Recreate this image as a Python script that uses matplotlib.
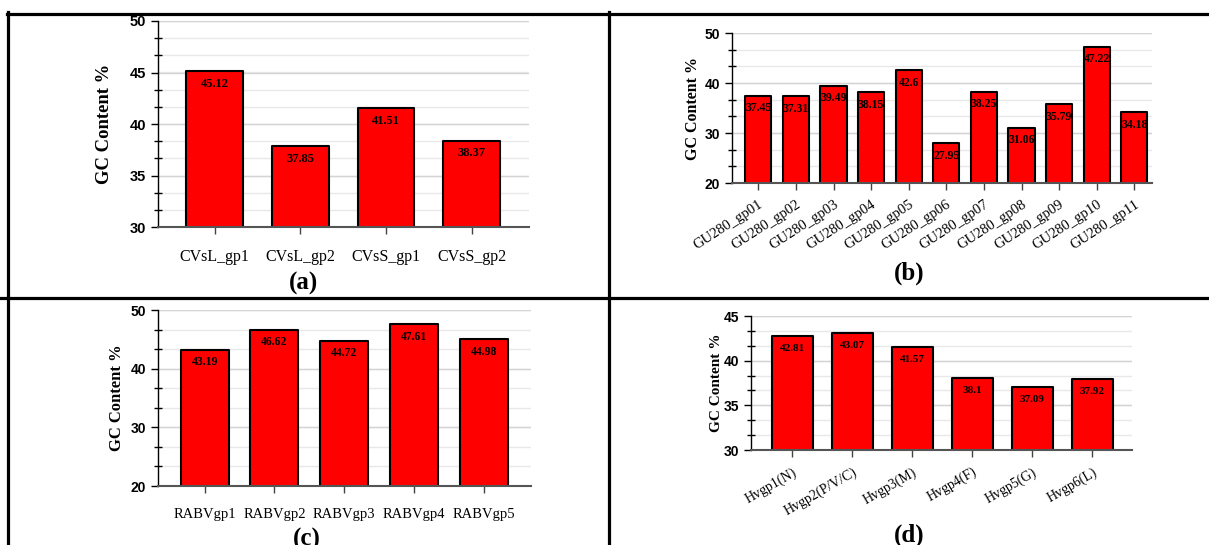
import matplotlib
matplotlib.use("Agg")
import numpy as np
import matplotlib.pyplot as plt
from matplotlib.lines import Line2D
from matplotlib.ticker import MultipleLocator

W, H = 1209, 545
serif = ["Liberation Serif", "DejaVu Serif"]
sans = ["Liberation Sans", "DejaVu Sans"]

# panel (a)
cats_a = ["CVsL_gp1", "CVsL_gp2", "CVsS_gp1", "CVsS_gp2"]
vals_a = [45.12, 37.85, 41.51, 38.37]

# panel (b)
cats_b = ["GU280_gp01", "GU280_gp02", "GU280_gp03", "GU280_gp04", "GU280_gp05",
          "GU280_gp06", "GU280_gp07", "GU280_gp08", "GU280_gp09", "GU280_gp10",
          "GU280_gp11"]
vals_b = [37.45, 37.31, 39.49, 38.15, 42.6, 27.95, 38.25, 31.06, 35.79, 47.22, 34.18]

# panel (c)
cats_c = ["RABVgp1", "RABVgp2", "RABVgp3", "RABVgp4", "RABVgp5"]
vals_c = [43.19, 46.62, 44.72, 47.61, 44.98]

# panel (d)
cats_d = ["Hvgp1(N)", "Hvgp2(P/V/C)", "Hvgp3(M)", "Hvgp4(F)", "Hvgp5(G)", "Hvgp6(L)"]
vals_d = [42.81, 43.07, 41.57, 38.1, 37.09, 37.92]

ylabel = "GC Content %"


def px_rect(left, top, right, bottom):
    return [left / W, 1 - bottom / H, (right - left) / W, (bottom - top) / H]


def draw_panel(fig, rect, cats, vals, ylim, major, minor, xlim, width,
               rot=0, cat_size=11, val_size=8.5, tick_size=10, pad=8):
    ax = fig.add_axes(rect)
    x = list(range(len(cats)))
    # light grid under the bars, ticks drawn over them
    for g in np.arange(ylim[0], ylim[1] + 0.01, minor):
        ax.axhline(g, color="#e8e8e8", lw=1.0, zorder=0.5)
    for g in np.arange(ylim[0], ylim[1] + 0.01, major):
        ax.axhline(g, color="#d4d4d4", lw=1.0, zorder=0.6)
    ax.bar(x, vals, width=width, color="#ff0000", edgecolor="black",
           linewidth=1.5, zorder=2, joinstyle="round")
    for i, v in enumerate(vals):
        ax.annotate(str(v), (i, v), xytext=(0, -9), textcoords="offset points",
                    ha="center", va="center", fontsize=val_size,
                    fontweight="bold", family=serif, zorder=5)
    ax.set_ylim(*ylim)
    ax.set_xlim(*xlim)
    ax.yaxis.set_major_locator(MultipleLocator(major))
    ax.yaxis.set_minor_locator(MultipleLocator(minor))
    for s in ["top", "right"]:
        ax.spines[s].set_visible(False)
    ax.spines["left"].set_color("black")
    ax.spines["left"].set_linewidth(1.0)
    ax.spines["bottom"].set_color("#555555")
    ax.spines["bottom"].set_linewidth(1.5)
    ax.spines["bottom"].set_zorder(4)
    ax.tick_params(axis="y", which="major", direction="out", length=5,
                   width=1, labelsize=tick_size)
    ax.tick_params(axis="y", which="minor", direction="inout", length=6, width=1)
    ax.tick_params(axis="x", which="major", direction="inout", length=10,
                   width=1, color="#444444", pad=pad)
    ax.set_xticks(x)
    for lab in ax.get_yticklabels():
        lab.set_family(sans)
        lab.set_fontweight("bold")
    if rot:
        ax.set_xticklabels(cats, rotation=rot, ha="right", rotation_mode="anchor",
                           family=serif, fontsize=cat_size)
    else:
        ax.set_xticklabels(cats, family=serif, fontsize=cat_size)
    return ax


fig = plt.figure(figsize=(W / 100, H / 100), dpi=100)

draw_panel(fig, px_rect(158, 21, 529, 227), cats_a, vals_a, (30, 50), 5, 5 / 3,
           (-0.66, 3.67), 0.66, cat_size=11.5, val_size=9, tick_size=10.5, pad=11)
draw_panel(fig, px_rect(732, 33, 1152, 183), cats_b, vals_b, (20, 50), 10, 10 / 3,
           (-0.70, 10.47), 0.70, rot=33, cat_size=10.5, val_size=8.5, tick_size=10,
           pad=6)
draw_panel(fig, px_rect(158, 310, 531, 486), cats_c, vals_c, (20, 50), 10, 10 / 3,
           (-0.67, 4.68), 0.69, cat_size=10.5, val_size=8.5, tick_size=10, pad=11)
draw_panel(fig, px_rect(751, 316, 1132, 450), cats_d, vals_d, (30, 45), 5, 5 / 3,
           (-0.69, 5.66), 0.68, rot=30, cat_size=10, val_size=8, tick_size=10, pad=6)

# y labels
for xc, yc, fs in [(104, 124, 13.4), (693, 108, 11.5), (117, 398, 12), (717, 383, 11)]:
    fig.text(xc / W, 1 - yc / H, ylabel, rotation=90, ha="center", va="center",
             fontsize=fs, fontweight="bold", family=serif)

# panel letters ((c) is cut by the bottom edge, as in the source figure)
for xc, yc, t in [(304, 283, "(a)"), (909, 273, "(b)"), (307, 539, "(c)"), (909, 535, "(d)")]:
    fig.text(xc / W, 1 - yc / H, t, ha="center", va="center", fontsize=18,
             fontweight="bold", family=serif)

# frame lines between panels
lw = 2.3
fig.add_artist(Line2D([7 / W, 1], [1 - 13.5 / H] * 2, color="black", lw=lw))
fig.add_artist(Line2D([0, 1], [1 - 298 / H] * 2, color="black", lw=lw))
fig.add_artist(Line2D([8.3 / W] * 2, [0, 1 - 12 / H], color="black", lw=lw))
fig.add_artist(Line2D([609.3 / W] * 2, [0, 1 - 12 / H], color="black", lw=lw))

fig.savefig("out.png", dpi=100)
